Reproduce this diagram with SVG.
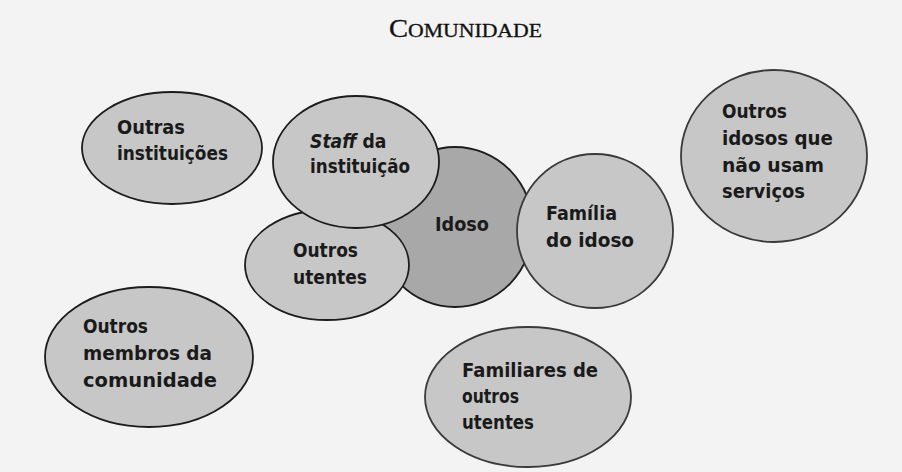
<svg xmlns="http://www.w3.org/2000/svg" width="902" height="472" viewBox="0 0 902 472">
<style>
.bg{fill:#f3f3f3}
.n{fill:#c7c7c7;stroke:#1c1c1c;stroke-width:1.8}
.n2{fill:#c7c7c7;stroke:#3a3a3a;stroke-width:1.8}
.dark{fill:#a8a8a8;stroke:#1c1c1c;stroke-width:1.8}
.t{font-family:"DejaVu Sans","Liberation Sans",sans-serif;font-weight:bold;font-size:20px;fill:#1a1a1a}
.title{font-family:"Liberation Serif",serif;fill:#111;stroke:#111;stroke-width:0.3}
</style>
<rect class="bg" x="0" y="0" width="902" height="472"/>
<text class="title" x="389" y="37" font-size="25" textLength="153" lengthAdjust="spacingAndGlyphs">C<tspan font-size="19">OMUNIDADE</tspan></text>
<g id="connectors"></g>
<g id="outras-instituicoes">
<ellipse class="n" cx="172" cy="148" rx="90" ry="56"/>
<text class="t" x="117" y="134" textLength="68" lengthAdjust="spacingAndGlyphs">Outras</text>
<text class="t" x="117" y="160" textLength="111" lengthAdjust="spacingAndGlyphs">instituições</text>
</g>
<g id="idoso">
<ellipse class="dark" cx="455" cy="227" rx="78" ry="80"/>
<text class="t" x="435" y="231" textLength="54" lengthAdjust="spacingAndGlyphs">Idoso</text>
</g>
<g id="outros-utentes">
<ellipse class="n" cx="327" cy="265" rx="82" ry="55"/>
<text class="t" x="293" y="257" textLength="65" lengthAdjust="spacingAndGlyphs">Outros</text>
<text class="t" x="293" y="284" textLength="74" lengthAdjust="spacingAndGlyphs">utentes</text>
</g>
<g id="staff">
<ellipse class="n" cx="356" cy="162" rx="83" ry="66"/>
<text class="t" transform="translate(310 148) scale(0.86 1)" x="0" y="0"><tspan font-style="italic">Staff</tspan> da</text>
<text class="t" x="310" y="173" textLength="100" lengthAdjust="spacingAndGlyphs">instituição</text>
</g>
<g id="familia-idoso">
<ellipse class="n2" cx="595" cy="231" rx="78" ry="77"/>
<text class="t" x="546" y="220" textLength="71" lengthAdjust="spacingAndGlyphs">Família</text>
<text class="t" x="546" y="247" textLength="88" lengthAdjust="spacingAndGlyphs">do idoso</text>
</g>
<g id="outros-idosos">
<ellipse class="n2" cx="774" cy="156" rx="93" ry="86"/>
<text class="t" x="722" y="118" textLength="65" lengthAdjust="spacingAndGlyphs">Outros</text>
<text class="t" x="722" y="145" textLength="111" lengthAdjust="spacingAndGlyphs">idosos que</text>
<text class="t" x="722" y="172" textLength="102" lengthAdjust="spacingAndGlyphs">não usam</text>
<text class="t" x="722" y="198" textLength="83" lengthAdjust="spacingAndGlyphs">serviços</text>
</g>
<g id="outros-membros">
<ellipse class="n" cx="149" cy="357" rx="104" ry="70"/>
<text class="t" x="83" y="333" textLength="65" lengthAdjust="spacingAndGlyphs">Outros</text>
<text class="t" x="83" y="360" textLength="129" lengthAdjust="spacingAndGlyphs">membros da</text>
<text class="t" x="83" y="387" textLength="134" lengthAdjust="spacingAndGlyphs">comunidade</text>
</g>
<g id="familiares-outros">
<ellipse class="n2" cx="528" cy="397" rx="103" ry="70"/>
<text class="t" x="462" y="377" textLength="136" lengthAdjust="spacingAndGlyphs">Familiares de</text>
<text class="t" x="462" y="403" textLength="57" lengthAdjust="spacingAndGlyphs">outros</text>
<text class="t" x="462" y="429" textLength="72" lengthAdjust="spacingAndGlyphs">utentes</text>
</g>
</svg>
